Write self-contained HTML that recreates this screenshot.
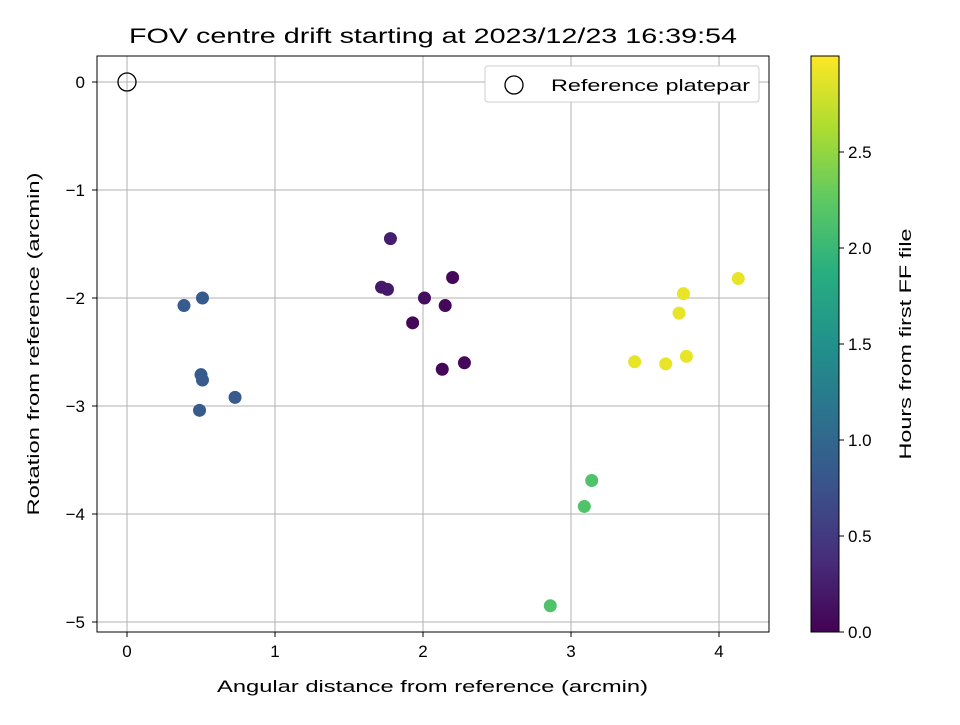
<!DOCTYPE html>
<html><head><meta charset="utf-8"><style>
body{margin:0;background:#fff;}
svg text{font-family:"Liberation Sans","DejaVu Sans",sans-serif;fill:#000;}
</style></head><body>
<svg id="c" width="960" height="720" xmlns="http://www.w3.org/2000/svg">
<defs><linearGradient id="vg" x1="0" y1="1" x2="0" y2="0">
<stop offset="0" stop-color="#440154"/><stop offset="0.125" stop-color="#472d7b"/><stop offset="0.25" stop-color="#3b528b"/><stop offset="0.375" stop-color="#2c728e"/><stop offset="0.5" stop-color="#21918c"/><stop offset="0.625" stop-color="#28ae80"/><stop offset="0.75" stop-color="#5ec962"/><stop offset="0.875" stop-color="#addc30"/><stop offset="1" stop-color="#fde725"/></linearGradient></defs>
</svg>
<script>
const xs=[0.385,0.51,0.50,0.51,0.49,0.73, 1.78,1.72,1.76,2.01,2.20,2.15,1.93,2.13,2.28, 2.86,3.09,3.14, 3.43,3.64,3.78,3.73,3.76,4.13];
const ys=[-2.07,-2.0,-2.71,-2.76,-3.04,-2.92, -1.45,-1.90,-1.92,-2.0,-1.81,-2.07,-2.23,-2.66,-2.60, -4.85,-3.93,-3.69, -2.59,-2.61,-2.54,-2.14,-1.96,-1.82];
const hours=[0.85,0.85,0.85,0.85,0.85,0.85, 0.25,0.2,0.2,0.1,0.05,0.05,0.05,0.05,0.05, 2.15,2.15,2.15, 2.9,2.9,2.9,2.9,2.9,2.9];
const xTicks=[0,1,2,3,4];
const yTicks=[0,-1,-2,-3,-4,-5];
const cTicks=[0,0.5,1.0,1.5,2.0,2.5];
const cMax=3.0;
const L=97,R=769,T=56,B=632;
const X=v=>127+v*148, Y=v=>82-v*108, C=v=>632-v*(576/cMax);
const vir=["#440154","#472d7b","#3b528b","#2c728e","#21918c","#28ae80","#5ec962","#addc30","#fde725"];
function col(t){t=Math.max(0,Math.min(1,t/cMax))*8;const i=Math.min(7,Math.floor(t)),f=t-i;
const a=vir[i],b=vir[i+1];let o="#";for(let k=1;k<7;k+=2){const p=parseInt(a.substr(k,2),16),q=parseInt(b.substr(k,2),16);o+=Math.round(p+(q-p)*f).toString(16).padStart(2,"0");}return o;}
const svg=document.getElementById('c');const NS="http://www.w3.org/2000/svg";
function el(t,a,p){const e=document.createElementNS(NS,t);for(const k in a)e.setAttribute(k,a[k]);(p||svg).appendChild(e);return e;}
function tx(s,x,y,a,p){const e=el('text',Object.assign({x:x,y:y,'font-size':17},a),p);e.textContent=s;return e;}
const g=el('g',{});
xTicks.forEach(v=>{el('line',{x1:X(v),x2:X(v),y1:T,y2:B,stroke:'#b0b0b0','stroke-width':1},g);
el('line',{x1:X(v),x2:X(v),y1:B,y2:B+5,stroke:'#000'});
const t=tx(String(v),X(v),B+25,{'text-anchor':'middle'});});
yTicks.forEach(v=>{el('line',{x1:L,x2:R,y1:Y(v),y2:Y(v),stroke:'#b0b0b0','stroke-width':1},g);
el('line',{x1:L-5,x2:L,y1:Y(v),y2:Y(v),stroke:'#000'});
const t=tx(v<0?'\u2212'+(-v):String(v),L-12,Y(v)+6,{'text-anchor':'end'});});
const pts=el('g',{});
xs.forEach((v,i)=>{const c=el('circle',{cx:X(v),cy:Y(ys[i]),r:6.5,fill:col(hours[i])},pts);
});
const ref=el('circle',{cx:X(0),cy:Y(0),r:9,fill:'none',stroke:'#000','stroke-width':1.3});

const fr=el('rect',{x:L,y:T,width:R-L,height:B-T,fill:'none',stroke:'#000','stroke-width':1});

const lg=el('g',{});
el('rect',{x:485,y:66,width:274,height:36,rx:3,fill:'#fff',stroke:'#ccc'},lg);
el('circle',{cx:514,cy:85,r:9,fill:'none',stroke:'#000','stroke-width':1.3},lg);
tx('Reference platepar',551,91,{textLength:199,lengthAdjust:'spacingAndGlyphs'},lg);
let t=tx('FOV centre drift starting at 2023/12/23 16:39:54',129,43,{'font-size':21,textLength:608,lengthAdjust:'spacingAndGlyphs'});

t=tx('Angular distance from reference (arcmin)',217,692,{textLength:431,lengthAdjust:'spacingAndGlyphs'});

t=tx('Rotation from reference (arcmin)',0,0,{'text-anchor':'middle',textLength:343,lengthAdjust:'spacingAndGlyphs',transform:'translate(39,344) rotate(-90)'});

const cb=el('g',{});
el('rect',{x:811,y:56,width:28,height:576,fill:'url(#vg)',stroke:'#000','stroke-width':1},cb);
cTicks.forEach(v=>{el('line',{x1:839,x2:844,y1:C(v),y2:C(v),stroke:'#000'},cb);tx(v.toFixed(1),848,C(v)+6,{},cb);});
t=tx('Hours from first FF file',0,0,{'text-anchor':'middle',textLength:231,lengthAdjust:'spacingAndGlyphs',transform:'translate(911,344) rotate(-90)'});

</script>
</body></html>
